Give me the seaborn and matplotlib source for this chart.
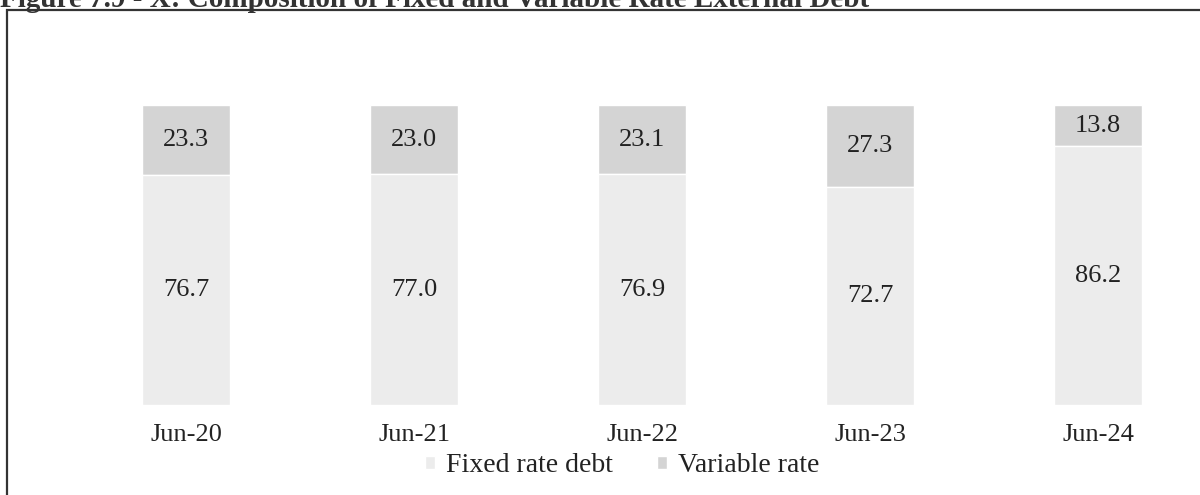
import pandas as pd
import matplotlib.pyplot as plt
import seaborn as sns
from matplotlib.patches import Rectangle

periods = ['Jun-20', 'Jun-21', 'Jun-22', 'Jun-23', 'Jun-24']
fixed_rate = [76.7, 77.0, 76.9, 72.7, 86.2]
variable_rate = [23.3, 23.0, 23.1, 27.3, 13.8]

df = pd.DataFrame({'period': periods, 'fixed': fixed_rate, 'variable': variable_rate})
df['total'] = df['fixed'] + df['variable']

sns.set_theme(style='white')
plt.rcParams['font.family'] = ['Liberation Serif', 'DejaVu Serif']

fixed_col = '#ececec'
var_col = '#d4d4d4'

fig = plt.figure(figsize=(12, 4.95), dpi=100)
ax = fig.add_axes([7 / 1200, 90 / 495, 1193 / 1200, 450 / 495])

# stacked bars: total (variable on top) then fixed from zero
sns.barplot(data=df, x='period', y='total', color=var_col, width=0.386,
            saturation=1, ax=ax, label='Variable rate')
sns.barplot(data=df, x='period', y='fixed', color=fixed_col, width=0.386,
            saturation=1, ax=ax, label='Fixed rate debt')

bars_var = ax.containers[0]
bars_fix = ax.containers[1]
for bar, f in zip(bars_var, df['fixed']):
    bar.set_y(f)
    bar.set_height(bar.get_height() - f)
ax.bar_label(bars_var, labels=[f'{v:.1f}' for v in df['variable']],
             label_type='center', fontsize=19, color='#222222')
ax.bar_label(bars_fix, labels=[f'{v:.1f}' for v in df['fixed']],
             label_type='center', fontsize=19, color='#222222')

ax.set_xlim(-0.785, 4.447)
ax.set_ylim(0, 150)
ax.set_xlabel('')
ax.set_ylabel('')
ax.set_yticks([])
ax.tick_params(axis='x', length=0, pad=14, labelsize=19, labelcolor='#222222')
for s in ax.spines.values():
    s.set_visible(False)
ax.patch.set_alpha(0)
if ax.get_legend() is not None:
    ax.get_legend().remove()

handles, labels = ax.get_legend_handles_labels()
order = [labels.index('Fixed rate debt'), labels.index('Variable rate')]
fig.legend([handles[i] for i in order], [labels[i] for i in order],
           loc='center', bbox_to_anchor=(622 / 1200, 1 - 466 / 495), ncol=2,
           frameon=False, fontsize=20, handlelength=0.35, handleheight=0.35,
           handletextpad=0.4, columnspacing=1.6, labelcolor='#222222')

# outer border of the chart box
fig.patches.append(Rectangle((7 / 1200, -0.1), 1.2, 1 - 10 / 495 + 0.1,
                             transform=fig.transFigure, fill=False,
                             edgecolor='#333333', linewidth=1.6))

fig.text(0.0, 1 - 7 / 495,
         'Figure 7.9 - X: Composition of Fixed and Variable Rate External Debt',
         fontsize=21, fontweight='bold', ha='left', va='baseline', color='#333333')

fig.savefig('out.png', dpi=100)
